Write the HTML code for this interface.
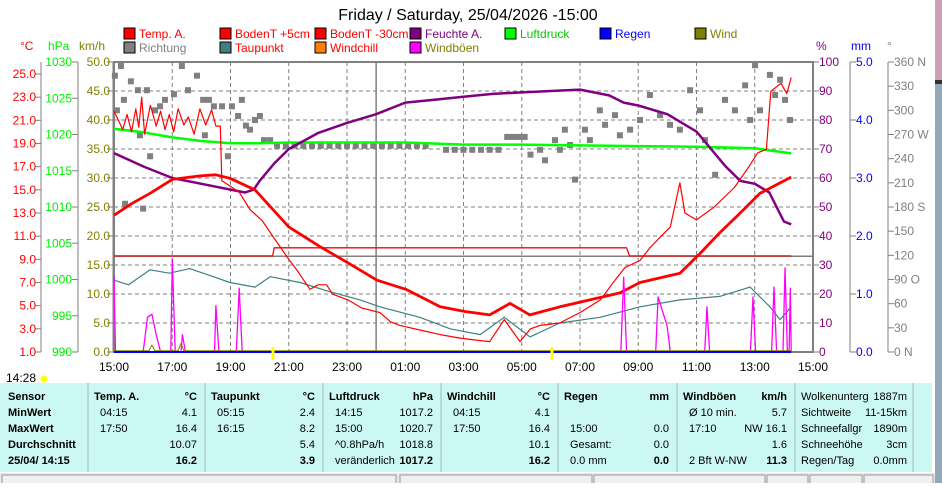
<!DOCTYPE html>
<html><head><meta charset="utf-8"><style>
body{margin:0;width:942px;height:483px;overflow:hidden;background:#fff;font-family:"Liberation Sans",sans-serif}
svg text{font-family:"Liberation Sans",sans-serif}
</style></head><body>
<svg id="chart" width="942" height="483" viewBox="0 0 942 483" xmlns="http://www.w3.org/2000/svg">
<rect x="935" y="0" width="7" height="80" fill="#c8a0b4"/>
<rect x="935" y="80" width="7" height="4" fill="#333"/>
<rect x="935" y="84" width="7" height="399" fill="#93a9ba"/>
<text x="468" y="20" font-size="16" text-anchor="middle">Friday / Saturday, 25/04/2026 -15:00</text>
<g id="legend" font-size="12"></g>
<g id="axes" font-size="12"></g>
<g id="grid"></g>
<g id="series"></g>
<g id="table" font-size="11"></g>
</svg>
<script>
// ---- data (hours since 15:00) ----
const xTickLabels=["15:00","17:00","19:00","21:00","23:00","01:00","03:00","05:00","07:00","09:00","11:00","13:00","15:00"];
const tempTicks=[1,3,5,7,9,11,13,15,17,19,21,23,25];
const hpaTicks=[990,995,1000,1005,1010,1015,1020,1025,1030];
const kmhTicks=[0,5,10,15,20,25,30,35,40,45,50];
const pctTicks=[0,10,20,30,40,50,60,70,80,90,100];
const mmTicks=[0,1,2,3,4,5];
const degTicks=[0,30,60,90,120,150,180,210,240,270,300,330,360];
const degLabels=["0    N","30","60","90  O","120","150","180 S","210","240","270 W","300","330","360 N"];

const tempA_t=[0,0.15,0.3,0.45,0.6,0.75,0.85,0.95,1.05,1.25,1.45,1.6,1.75,1.9,2.05,2.2,2.4,2.55,2.75,2.95,3.15,3.35,3.5,3.65,3.7,4.0,4.3,4.67,5.1,5.53,6.0,6.3,6.73,7.0,7.3,7.5,8.03,8.5,9.13,9.5,9.82,10.5,11.2,11.88,12.5,12.9,13.4,13.94,14.3,14.63,15.3,16.0,16.7,17.2,17.55,18.06,18.4,18.75,19.1,19.43,19.6,20.0,20.6,21.3,21.8,22.1,22.4,22.55,22.9,23.1,23.25];
const tempA_v=[21.8,21,20.2,21.5,20,22,20.4,23,19.8,22.3,20.5,21.8,20.2,21.5,20,22,20.6,21.3,19.8,22,20.6,21.9,20.5,20.5,15.8,15.3,14.8,13.3,12.3,10.7,9.0,8.0,6.4,6.8,6.8,6.0,5.5,4.8,4.4,3.6,3.3,2.9,2.5,2.2,2.0,1.9,3.8,1.9,3.0,3.3,3.5,4.4,5.5,7.2,8.3,8.9,10.0,10.9,11.8,15.6,13,12.4,13.5,15.2,17,18.2,18.5,23.5,24.2,23.3,24.7];
const soil5_t=[0,0.6,1.24,2,2.95,3.5,3.98,4.84,6.0,7.07,8.03,9.03,10.03,11.2,12.05,12.9,13.6,14.28,15.31,16.34,17.37,18.06,19.43,20.12,20.8,21.5,22.18,22.87,23.25];
const soil5_v=[12.8,13.8,14.7,15.9,16.2,16.3,16.0,15.0,11.8,10.1,8.7,7.2,6.4,4.9,4.5,4.2,5.2,4.2,4.9,5.5,6.1,7.0,7.8,9.5,11.3,13.0,14.7,15.6,16.1];
const soil30_t=[0,5.45,5.5,17.6,17.7,23.25];
const soil30_v=[9.3,9.3,10.0,10.0,9.3,9.3];
const dew_t=[0,0.5,1.24,1.9,2.6,3.3,3.98,4.84,5.36,6.39,7.42,8.45,9.13,10.5,11.54,12.57,13.4,14.28,15.31,16.69,18.06,19.43,20.8,21.84,22.52,22.87,23.25];
const dew_v=[7.2,6.8,8.1,7.8,8.2,7.6,7.0,6.6,7.5,7.0,6.2,5.5,4.9,4.0,3.0,2.5,4.0,2.3,3.5,4.0,4.9,5.5,5.8,6.6,4.9,3.8,4.9];
const hum_t=[0,1,2,3,4,4.5,4.8,5,5.5,6,7,8,9,10,11,12,13,14,15,16,17,17.5,18,19,20,21,21.5,22,22.5,23,23.25];
const hum_v=[68.6,64,60,58,56,55,56,59,65,70,75.5,79,82,86,87,88,89,89.5,90,90.5,88.5,86,85,82,76,64,59,58,55,45,44];
const pres_t=[0,1,2,3,4,5,6,8,10,12,14,16,18,20,21,22,23.25];
const pres_v=[1020.8,1020.3,1019.6,1019.1,1018.8,1018.8,1018.9,1018.9,1018.9,1018.6,1018.6,1018.5,1018.4,1018.3,1018.2,1018.1,1017.4];
const gust_t=[0,0.05,1.0,1.05,1.15,1.3,1.45,1.6,1.95,2.0,2.1,2.3,2.35,2.45,3.45,3.5,3.6,4.2,4.3,4.4,17.4,17.5,17.6,18.6,18.68,18.99,19.1,20.28,20.36,20.45,21.85,21.94,22.03,22.58,22.66,22.75,22.97,23.04,23.12,23.18,23.22,23.25];
const gust_v=[13,0,0,2,6,6.5,3,0,0,16,0,0,3,0,0,8,0,0,11,0,0,12.9,0,0,9.5,4.5,0,0,7.8,0,0,9.5,0,0,11.2,0,0,14.5,0,0,11,0];
const dir_t=[0.03,0.1,0.24,0.34,0.38,0.58,0.82,0.89,1.0,1.13,1.24,1.41,1.58,1.75,2.06,2.33,2.54,2.85,3.06,3.12,3.26,3.43,3.71,3.91,4.05,4.26,4.39,4.53,4.67,4.84,5.01,5.15,5.36,5.6,5.9,6.2,6.5,6.8,7.1,7.4,7.7,8.0,8.3,8.6,8.9,9.2,9.5,9.8,10.1,10.4,10.7,11.4,11.7,12.0,12.3,12.6,12.9,13.2,13.5,13.7,13.9,14.1,14.3,14.63,14.8,15.14,15.31,15.48,15.66,15.83,16.17,16.34,16.68,16.86,17.2,17.37,17.72,18.06,18.4,18.75,19.09,19.43,19.78,20.12,20.29,20.64,20.98,21.32,21.67,21.84,22.01,22.18,22.52,22.7,22.87,23.04,23.21];
const dir_v=[343,300,355,313,184,336,325,269,178,325,243,300,305,313,320,355,325,343,313,269,313,305,305,243,305,293,313,281,276,288,293,263,263,256,256,256,256,256,256,256,256,256,256,256,256,256,256,256,256,256,256,251,251,251,251,251,251,251,267,267,267,267,245,251,238,263,251,276,257,214,276,263,300,282,294,269,276,288,319,294,282,276,325,300,263,220,313,300,331,288,356,300,344,319,338,313,288];
const rain_t=[0,23.25];
const rain_v=[0,0];
const wind_t=[0,1.2,1.3,1.4,2.2,2.3,2.4,23.25];
const wind_v=[0.2,0.2,1.2,0.2,0.2,1.5,0.2,0.2];

// ---- scales ----
const L=114,R=813,T=62,B=352;
const xT=t=>L+t*(R-L)/24;
const yTemp=v=>B-(v-1)*278/24;
const yHpa=v=>B-(v-990)*7.25;
const yKmh=v=>B-v*5.8;
const yPct=v=>B-v*2.9;
const yMm=v=>B-v*58;
const yDeg=v=>B-v*290/360;
const NS="http://www.w3.org/2000/svg";
function mk(tag,attrs,parent,txt){const e=document.createElementNS(NS,tag);for(const k in attrs)e.setAttribute(k,attrs[k]);if(txt!==undefined)e.textContent=txt;parent.appendChild(e);return e;}
const svg=document.getElementById('chart');
const gAx=document.getElementById('axes'),gGrid=document.getElementById('grid'),gS=document.getElementById('series'),gLeg=document.getElementById('legend'),gTab=document.getElementById('table');

// grid
for(let v=5;v<50;v+=5){const l=mk('line',{x1:L,x2:R,y1:yKmh(v),y2:yKmh(v),stroke:'#808080','stroke-dasharray':'4,3'},gGrid);

}
for(let h=2;h<24;h+=2){const l=mk('line',{x1:xT(h),x2:xT(h),y1:T,y2:B,stroke:'#808080','stroke-dasharray':'4,3'},gGrid);

}
{const l=mk('line',{x1:xT(9),x2:xT(9),y1:T,y2:B,stroke:'#808080','stroke-width':1.5},gGrid);

}
{const l=mk('line',{x1:L,x2:R,y1:yKmh(16.5),y2:yKmh(16.5),stroke:'#808080','stroke-width':1.5},gGrid);

}
{const r=mk('rect',{x:L,y:T,width:R-L,height:B-T,fill:'none',stroke:'#808080','stroke-width':2},gGrid);

}

// axes
function axis(x,vals,yf,labels,color,anchor,lx,name){
 const ln=mk('line',{x1:x,x2:x,y1:T,y2:B,stroke:'#808080'},gAx);
 
 
 vals.forEach((v,i)=>{const y=yf(v);mk('line',{x1:anchor==='end'?x-6:x,x2:anchor==='end'?x:x+6,y1:y,y2:y,stroke:'#808080'},gAx);
  const t=mk('text',{x:lx,y:y+4,fill:color,'text-anchor':anchor},gAx,labels[i]);
  
  });
}
axis(41,tempTicks,yTemp,tempTicks.map(v=>v.toFixed(1)),'#ff0000','end',36,'temp-axis');
axis(78,hpaTicks,yHpa,hpaTicks.map(String),'#00ee00','end',72,'pressure-axis');
axis(113,kmhTicks,yKmh,kmhTicks.map(v=>v.toFixed(1)),'#808000','end',110,'wind-axis');
axis(813,pctTicks,yPct,pctTicks.map(String),'#800080','start',819,'humidity-axis');
axis(850,mmTicks,yMm,mmTicks.map(v=>v.toFixed(1)),'#0000ff','start',856,'rain-axis');
axis(888,degTicks,yDeg,degLabels,'#808080','start',894,'direction-axis');
[['°C',20,'#ff0000'],['hPa',48,'#00ee00'],['km/h',79,'#808000'],['%',816,'#800080'],['mm',851,'#0000ff'],['°',887,'#808080']].forEach(u=>{
 const t=mk('text',{x:u[1],y:50,fill:u[2]},gAx,u[0]);
 
 });
xTickLabels.forEach((s,i)=>{const t=mk('text',{x:xT(i*2),y:371,'text-anchor':'middle',fill:'#000'},gAx,s);
 
 });

// legend
const legItems=[["Temp. A.",124,38,'#ff0000','#ff0000'],["BodenT +5cm",220,38,'#ff0000','#ff0000'],["BodenT -30cm",315,38,'#ff0000','#ff0000'],["Feuchte A.",410,38,'#800080','#800080'],["Luftdruck",505,38,'#00ff00','#00cc00'],["Regen",600,38,'#0000ff','#0000ff'],["Wind",695,38,'#808000','#808000'],
["Richtung",124,52,'#808080','#808080'],["Taupunkt",220,52,'#408080','#ff0000'],["Windchill",315,52,'#ff8000','#ff0000'],["Windböen",410,52,'#ff00ff','#808000']];
legItems.forEach(it=>{const g=mk('g',{},gLeg);
 
 
 mk('rect',{x:it[1],y:it[2]-10,width:11,height:11,fill:it[3],stroke:'#000'},g);
 mk('text',{x:it[1]+15,y:it[2],fill:it[4]},g,it[0]);});

// series
function line(ts,vs,yf,color,w,name){const p=ts.map((t,i)=>xT(t).toFixed(1)+','+yf(vs[i]).toFixed(1)).join(' ');
 const e=mk('polyline',{points:p,fill:'none',stroke:color,'stroke-width':w,'stroke-linejoin':'round'},gS);
 
 }
dir_t.forEach((t,i)=>{const r=mk('rect',{x:xT(t)-3,y:yDeg(dir_v[i])-3,width:6,height:6,fill:'#808080'},gS);
 
 });
line(pres_t,pres_v,yHpa,'#00ff00',2.5,'pressure-line');
line(hum_t,hum_v,yPct,'#800080',2.5,'humidity-line');
line(soil30_t,soil30_v,yTemp,'#ff0000',1.3,'soil-temp-30cm-line');
line(dew_t,dew_v,yTemp,'#408080',1.2,'dewpoint-line');
line(soil5_t,soil5_v,yTemp,'#ff0000',2.8,'soil-temp-5cm-line');
line(tempA_t,tempA_v,yTemp,'#ff0000',1.2,'temperature-line');
line(gust_t,gust_v,yKmh,'#ff00ff',1.3,'wind-gust-line');
line(wind_t,wind_v,yKmh,'#808000',1,'wind-line');
line(rain_t,rain_v,yMm,'#0000ff',2,'rain-line');

// sun markers
[[273,347,'#ffff00','sunset-marker'],[552,347,'#ffff00','sunrise-marker']].forEach(m=>{const r=mk('rect',{x:m[0]-1.5,y:m[1],width:3,height:13,fill:m[2]},gS);
 
 });
{const t=mk('text',{x:6,y:382,'font-size':'12'},gS,'14:28');
 
 
 const c=mk('circle',{cx:44,cy:379,r:3.5,fill:'#ffff00'},gS);
 
 }

// table
{const bg=mk('rect',{x:0,y:383,width:932,height:89,fill:'#ccf8f4'},gTab);
 
 }
const colX=[0,88,205,323,441,558,677,795,913];
colX.slice(1).forEach(x=>mk('line',{x1:x,x2:x,y1:383,y2:472,stroke:'#a0b8b8'},gTab));
const rowsY=[400,416,432,448,464];
const sensor=["Sensor","MinWert","MaxWert","Durchschnitt","25/04/ 14:15"];
sensor.forEach((s,i)=>{const t=mk('text',{x:8,y:rowsY[i],'font-weight':'bold'},gTab,s);
 
 });
const cols=[
 [["Temp. A.","°C"],["04:15","4.1"],["17:50","16.4"],["","10.07"],["","16.2"]],
 [["Taupunkt","°C"],["05:15","2.4"],["16:15","8.2"],["","5.4"],["","3.9"]],
 [["Luftdruck","hPa"],["14:15","1017.2"],["15:00","1020.7"],["^0.8hPa/h","1018.8"],["veränderlich","1017.2"]],
 [["Windchill","°C"],["04:15","4.1"],["17:50","16.4"],["","10.1"],["","16.2"]],
 [["Regen","mm"],["",""],["15:00","0.0"],["Gesamt:","0.0"],["0.0 mm","0.0"]],
 [["Windböen","km/h"],["Ø 10 min.","5.7"],["17:10","NW 16.1"],["","1.6"],["2 Bft W-NW","11.3"]],
 [["Wolkenunterg","1887m"],["Sichtweite","11-15km"],["Schneefallgr","1890m"],["Schneehöhe","3cm"],["Regen/Tag","0.0mm"]]];
cols.forEach((c,ci)=>{const x0=colX[ci+1],x1=colX[ci+2];
 c.forEach((r,ri)=>{const bold=ri===0&&ci<6?'bold':'normal';const bv=(ri===0||ri===4)&&ci<6?'bold':'normal';
  const a=mk('text',{x:x0+(ri===0||ci===6?6:12),y:rowsY[ri],'font-weight':bold},gTab,r[0]);
  
  
  const b=mk('text',{x:x1-(ci===6?6:8),y:rowsY[ri],'text-anchor':'end','font-weight':bv},gTab,r[1]);
  
  });});
// status bar
{const sb=mk('rect',{x:0,y:473,width:935,height:10,fill:'#e8e8e8'},gTab);
 
 
 [[2,396],[400,592],[594,765],[767,808],[810,862],[864,933]].forEach(p=>mk('rect',{x:p[0],y:475,width:p[1]-p[0],height:10,fill:'#f0f0f0',stroke:'#999'},gTab));}
</script>
</body></html>
